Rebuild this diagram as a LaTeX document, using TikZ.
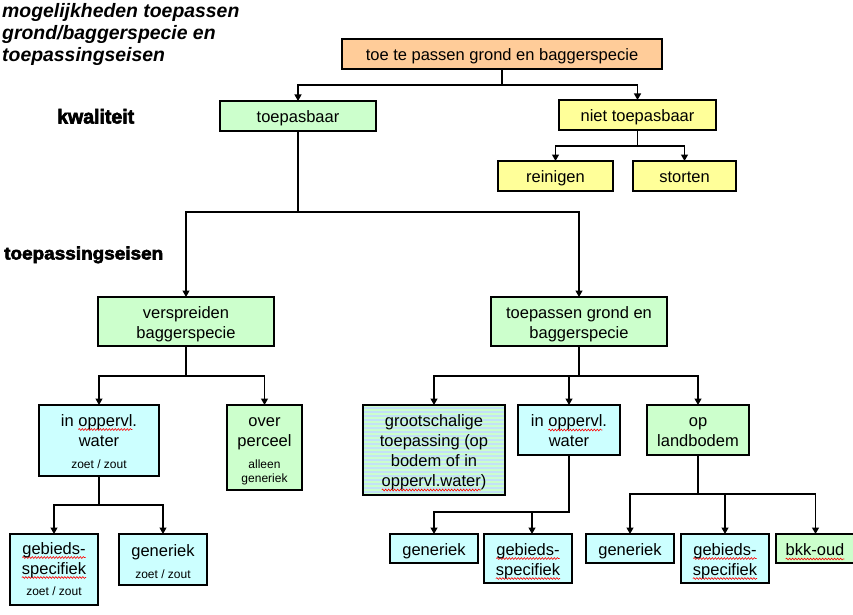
\documentclass[tikz,border=0pt]{standalone}
\usepackage{fontspec}
\setmainfont{Liberation Sans}
\newfontfamily\heavyfont[FakeBold=3]{Liberation Sans Bold}
\usepackage{graphicx}
\usetikzlibrary{arrows.meta,calc,decorations.pathmorphing}
\definecolor{corange}{HTML}{FFCC99}
\definecolor{cgreen}{HTML}{CCFFCC}
\definecolor{cyellow}{HTML}{FFFF99}
\definecolor{ccyan}{HTML}{CCFFFF}
\definecolor{cstripeG}{HTML}{CCFFCC}
\definecolor{cstripeB}{HTML}{C4E0F8}
\newsavebox\splbox
\newlength\splw
\newcommand\spl[1]{\sbox\splbox{#1}\setlength\splw{\wd\splbox}\tikz[overlay,baseline=0pt]\draw[spellw] (0pt,-3.5pt) -- (\splw,-3.5pt);\usebox\splbox}
\newcommand\bx[6]{\pgfmathsetmacro\bxw{#4-#2}\pgfmathsetmacro\bxh{#5-#3}\node[box,#6,minimum width=\bxw pt,minimum height=\bxh pt,anchor=north west] (#1) at (#2,#3) {};}
\tikzset{
 box/.style={draw=black,line width=1.2pt,inner sep=0pt,outer sep=0pt},
 txt/.style={font=\fontsize{16.5}{20}\selectfont,align=center,inner sep=0pt},
 small/.style={font=\fontsize{12}{14}\selectfont,align=center,inner sep=0pt},
 conn/.style={line width=1.2pt,-{Triangle[width=7pt,length=6.5pt]}},
 spellw/.style={red,line width=0.6pt,decorate,decoration={snake,amplitude=0.9pt,segment length=3pt}},
 stripes/.style={fill=cstripeB,path picture={
   \foreach \i in {0,...,23}
     \fill[cstripeG] ($(path picture bounding box.north west)+(0,\i*4)$) rectangle ++(200,2);}},
}
\begin{document}
\begin{tikzpicture}[x=1pt,y=-1pt]
\useasboundingbox (0,0) rectangle (853,615);
\fill[white] (0,0) rectangle (853,615);
% headings
\node[anchor=north west,inner sep=0pt,align=left,font=\fontsize{19.4}{22}\selectfont\bfseries\itshape] (title) at (2,1.6) {\strut mogelijkheden toepassen\\grond/baggerspecie en\\toepassingseisen\strut};
\node[anchor=base west,inner sep=0pt] (kwal) at (57,123.5) {\resizebox{77pt}{14.5pt}{\heavyfont kwaliteit}};
\node[anchor=base west,inner sep=0pt] (eisen) at (4,259.5) {\resizebox{159pt}{13pt}{\heavyfont toepassingseisen}};
% boxes
\bx{top}{342}{39}{662}{69}{fill=corange}
\bx{toep}{220}{101}{376}{131}{fill=cgreen}
\bx{niet}{559}{100}{716}{130}{fill=cyellow}
\bx{rein}{498}{161}{613}{191}{fill=cyellow}
\bx{stor}{633}{161}{736}{191}{fill=cyellow}
\bx{versp}{98}{297}{274}{346}{fill=cgreen}
\bx{toepg}{491}{297}{667}{346}{fill=cgreen}
\bx{lw}{39}{405}{159}{476}{fill=ccyan}
\bx{over}{227}{405}{302}{490}{fill=cgreen}
\bx{lgeb}{10}{534}{98}{605}{fill=ccyan}
\bx{lgen}{119}{534}{207}{585}{fill=ccyan}
\bx{groot}{363}{405}{505}{495}{stripes}
\bx{rw}{518}{405}{620}{455}{fill=ccyan}
\bx{land}{647}{405}{749}{455}{fill=cgreen}
\bx{mgen}{390}{534}{478}{563}{fill=ccyan}
\bx{mgeb}{484}{534}{572}{583}{fill=ccyan}
\bx{rgen}{586}{534}{674}{563}{fill=ccyan}
\bx{rgeb}{681}{534}{769}{583}{fill=ccyan}
\bx{bkk}{776}{534}{855}{563}{fill=cgreen}
% texts
\node[txt] (topt) at (502,56.5) {\strut toe te passen grond en baggerspecie};
\node[txt] (toept) at (298,118.5) {\strut toepasbaar};
\node[txt] (niett) at (637.5,117.5) {\strut niet toepasbaar};
\node[txt] (reint) at (555.5,178.5) {\strut reinigen};
\node[txt] (stort) at (684.5,178.5) {\strut storten};
\node[txt] (verspt) at (186,324) {\strut verspreiden\\baggerspecie\strut};
\node[txt] (toepgt) at (579,324) {\strut toepassen grond en\\baggerspecie\strut};
\node[txt] (lwt) at (99,432) {\strut in \spl{oppervl}.\\water\strut};
\node[small,anchor=base] (lwz) at (99,468) {zoet / zout};
\node[txt] (overt) at (264.5,432) {\strut over\\perceel\strut};
\node[small] (overz) at (264.5,473) {\strut alleen\\generiek\strut};
\node[txt] (lgebt) at (54,560) {\strut\spl{gebieds-}\\\spl{specifiek}\strut};
\node[small,anchor=base] (lgebz) at (54,595) {zoet / zout};
\node[txt] (lgent) at (163,552) {\strut generiek};
\node[small,anchor=base] (lgenz) at (163,578) {zoet / zout};
\node[txt] (groott) at (434,452.5) {\strut grootschalige\\toepassing (op\\bodem of in\\\spl{oppervl.water})\strut};
\node[txt] (rwt) at (569,432.5) {\strut in \spl{oppervl}.\\water\strut};
\node[txt] (landt) at (698,432.5) {\strut op\\landbodem\strut};
\node[txt] (mgent) at (434,551.5) {\strut generiek};
\node[txt] (mgebt) at (528,561) {\strut\spl{gebieds-}\\\spl{specifiek}\strut};
\node[txt] (rgent) at (630,551.5) {\strut generiek};
\node[txt] (rgebt) at (725,561) {\strut\spl{gebieds-}\\\spl{specifiek}\strut};
\node[txt] (bkkt) at (815,551.5) {\strut\spl{bkk-oud}};
% connectors
\draw[conn] (top.south) -- ++(0,16) -| (toep.north);
\draw[conn] (top.south) -- ++(0,16) -| (niet.north);
\draw[conn] (niet.south) -- ++(0,16) -| (rein.north);
\draw[conn] (niet.south) -- ++(0,16) -| (stor.north);
\draw[conn] (toep.south) -- ++(0,81) -| (versp.north);
\draw[conn] (toep.south) -- ++(0,81) -| (toepg.north);
\draw[conn] (versp.south) -- ++(0,30) -| (lw.north);
\draw[conn] (versp.south) -- ++(0,30) -| (over.north);
\draw[conn] (toepg.south) -- ++(0,30) -| (groot.north);
\draw[conn] (toepg.south) -- ++(0,30) -| (rw.north);
\draw[conn] (toepg.south) -- ++(0,30) -| (land.north);
\draw[conn] (lw.south) -- ++(0,29) -| (lgeb.north);
\draw[conn] (lw.south) -- ++(0,29) -| (lgen.north);
\draw[conn] (rw.south) -- ++(0,57) -| (mgen.north);
\draw[conn] (rw.south) -- ++(0,57) -| ($(mgeb.north west)+(48,0)$);
\draw[conn] (land.south) -- ++(0,39) -| (rgen.north);
\draw[conn] (land.south) -- ++(0,39) -| (rgeb.north);
\draw[conn] (land.south) -- ++(0,39) -| (bkk.north);
\end{tikzpicture}
\end{document}
